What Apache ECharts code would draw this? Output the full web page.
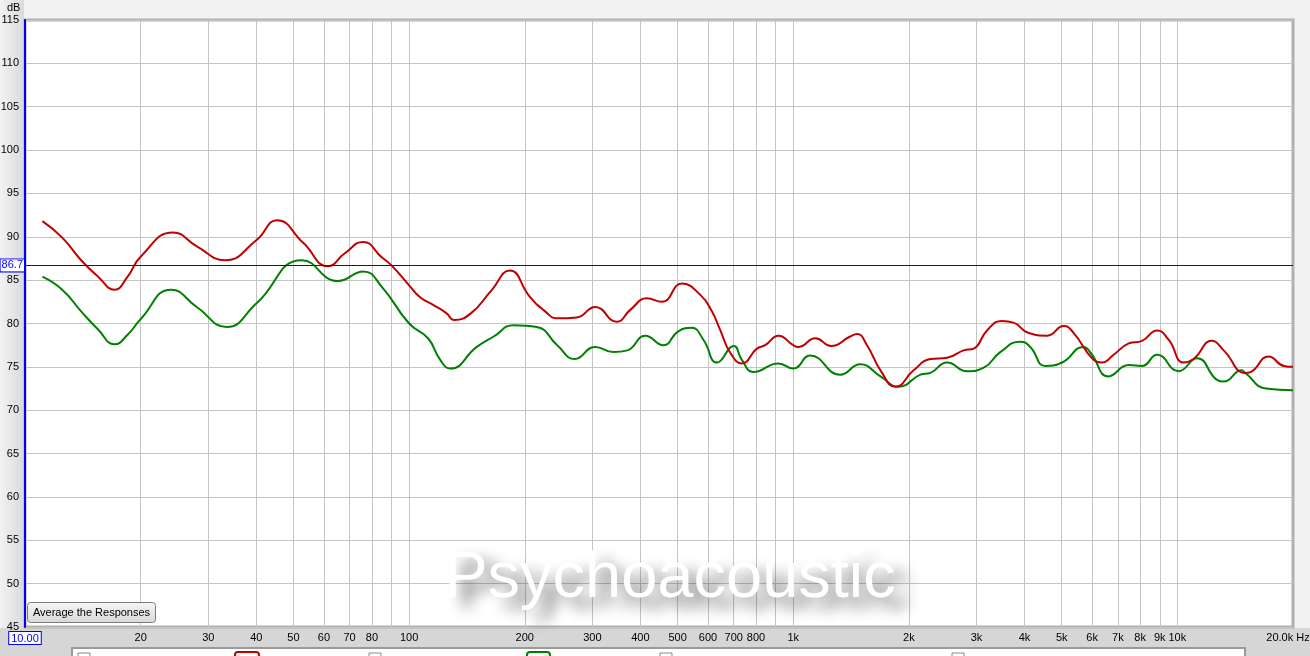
<!DOCTYPE html>
<html>
<head>
<meta charset="utf-8">
<script src="https://cdn.jsdelivr.net/npm/echarts@6/dist/echarts.min.js"></script>
<style>
html,body{margin:0;padding:0;background:#f2f2f2;}
#chart{width:1310px;height:656px;}
</style>
</head>
<body>
<div id="chart"></div>
<script>
// Frequencies (Hz) and levels (dB)
var redFreq = [11.1,12.5,14,15.5,17.1,18.5,20,24.3,28,33.2,40,45.3,53,61.5,68,75.9,85,90,100,107,116,125,131,145,163,183,206,226,243,273,305,347,377,416,455,513,573,614,646,686,735,804,845,915,1000,1033,1141,1255,1406,1465,1556,1687,1846,2058,2275,2515,2776,2949,3195,3494,3745,4100,4581,5061,5372,5998,6368,6826,7471,8090,8855,9500,10380,11020,12300,13200,15030,15500,17290,18940,20000];
var redDb   = [91.8,89.9,87.3,85.4,83.9,85.4,87.7,90.5,88.9,87.3,89.6,91.9,89.3,86.6,88.1,89.4,87.6,86.7,84.4,83.0,82.1,81.2,80.4,81.2,83.7,86.1,83.1,81.4,80.6,80.7,81.9,80.2,81.6,82.9,82.5,84.6,83.3,81.4,79.2,76.6,75.4,77.1,77.5,78.6,77.5,77.3,78.3,77.4,78.5,78.8,77.5,74.6,72.7,74.6,75.9,76.05,76.9,77.1,79.2,80.3,80.1,78.9,78.6,79.7,78.9,76.0,75.5,76.4,77.7,78.0,79.2,78.1,75.5,75.9,78.0,76.9,74.3,74.4,76.2,75.1,75.0];

var greenFreq = [11.1,12.5,14,15.5,17.1,18.5,20,24,28,33.5,40,52.6,65.3,76,85,100,112,120.5,128,150,166,187,215,243,270,305,340,370,412,459,502,544,584,633,700,735,788,915,1000,1107,1325,1494,1687,1880,2144,2275,2515,2832,3133,3459,3898,4140,4530,5010,5700,5950,6620,7471,8090,8855,10070,11250,12680,13200,14700,15030,17000,20000];
var greenDb   = [85.4,83.9,81.4,79.3,77.6,78.7,80.5,83.9,81.9,79.6,82.3,87.3,84.9,86.0,84.2,80.0,78.3,75.8,74.8,77.3,78.5,79.8,79.6,77.5,75.9,77.3,76.7,76.9,78.6,77.5,79.1,79.5,78.1,75.5,77.4,75.8,74.4,75.4,74.8,76.3,74.1,75.3,73.9,72.7,74.1,74.3,75.5,74.5,74.9,76.7,77.9,77.3,75.1,75.5,77.3,76.6,73.9,75.2,75.1,76.4,74.5,76.0,73.5,73.3,74.6,74.3,72.5,72.3];

var refLevel = 86.7;

// Axis ticks
var gridFreqs = [20,30,40,50,60,70,80,90,100,200,300,400,500,600,700,800,900,1000,2000,3000,4000,5000,6000,7000,8000,9000,10000];
var labelFreqs = [10,20,30,40,50,60,70,80,100,200,300,400,500,600,700,800,1000,2000,3000,4000,5000,6000,7000,8000,9000,10000,20000];
var labelTexts = ['10.00','20','30','40','50','60','70','80','100','200','300','400','500','600','700','800','1k','2k','3k','4k','5k','6k','7k','8k','9k','10k','20.0k Hz'];
var minFreq = 10, maxFreq = 20000;
var dbMin = 45, dbMax = 115, dbStep = 5;

function toPairs(f, v) { return f.map(function (x, i) { return [Math.log10(x), v[i]]; }); }
function freqLabel(val) {
  var best = 0, d = 1e9;
  for (var i = 0; i < labelFreqs.length; i++) {
    var dd = Math.abs(Math.log10(labelFreqs[i]) - val);
    if (dd < d) { d = dd; best = i; }
  }
  if (best === 0) return '{box|' + labelTexts[0] + '}';
  if (best === labelFreqs.length - 1) return '{last|' + labelTexts[best] + '}';
  return labelTexts[best];
}

var FONT = 'Liberation Sans';
var chart = echarts.init(document.getElementById('chart'), null, {renderer: 'canvas'});
chart.setOption({
  animation: false,
  backgroundColor: '#f2f2f2',
  grid: {left: 25, right: 17, top: 20, bottom: 29, show: true, backgroundColor: '#ffffff', borderColor: '#b0b0b0', borderWidth: 3,
    containLabel: false, outerBoundsMode: 'none'},
  xAxis: {
    type: 'value', min: Math.log10(minFreq), max: Math.log10(maxFreq),
    axisLine: {show: false}, axisTick: {show: false, customValues: gridFreqs.map(Math.log10)},
    splitLine: {show: true, lineStyle: {color: '#c4c4c4', width: 1}},
    axisLabel: {
      customValues: labelFreqs.map(Math.log10), formatter: freqLabel,
      color: '#000', fontFamily: FONT, fontSize: 11, margin: 5, hideOverlap: false,
      rich: {
        box: {color: '#0000ff', borderColor: '#0000ff', borderWidth: 1, backgroundColor: '#fff', padding: [1, 2, 0, 2], fontFamily: FONT, fontSize: 11},
        last: {color: '#000', fontFamily: FONT, fontSize: 11, padding: [0, 10, 0, 0]}
      }
    }
  },
  yAxis: {
    type: 'value', min: dbMin, max: dbMax, interval: dbStep,
    axisLine: {show: true, lineStyle: {color: '#0000ff', width: 2}}, axisTick: {show: false},
    splitLine: {show: true, lineStyle: {color: '#c4c4c4', width: 1}},
    axisLabel: {color: '#000', fontFamily: FONT, fontSize: 11, margin: 6}
  },
  series: [
    {
      type: 'line', name: 'Red', data: toPairs(redFreq, redDb), smooth: 0.5, showSymbol: false,
      lineStyle: {color: '#c00000', width: 2}, itemStyle: {color: '#c00000'}, z: 3,
      markLine: {
        silent: true, symbol: 'none', data: [{yAxis: refLevel}],
        lineStyle: {color: '#0000ff', width: 1, type: 'solid'},
        label: {position: 'start', formatter: String(refLevel), color: '#0000ff', borderColor: '#0000ff', borderWidth: 1,
          backgroundColor: '#fff', padding: [1, 1, 0, 1], distance: 1, fontFamily: FONT, fontSize: 11}
      }
    },
    {
      type: 'line', name: 'Green', data: toPairs(greenFreq, greenDb), smooth: 0.5, showSymbol: false,
      lineStyle: {color: '#008000', width: 2}, itemStyle: {color: '#008000'}, z: 2
    }
  ],
  graphic: [
    {type: 'rect', z: -5, shape: {x: 0, y: 0, width: 24, height: 628}, style: {fill: new echarts.graphic.LinearGradient(0, 0, 1, 0, [{offset: 0, color: '#f2f2f2'}, {offset: 1, color: '#dadada'}])}},
    {type: 'rect', z: -5, shape: {x: 0, y: 628, width: 1310, height: 28}, style: {fill: '#d6d6d6'}},
    {type: 'text', left: 7, top: 2, style: {text: 'dB', fill: '#000', font: '11px "Liberation Sans"'}},
    {type: 'rect', z: 5, shape: {x: 72, y: 648, width: 1173, height: 20}, style: {fill: '#ffffff', stroke: '#9a9a9a', lineWidth: 2}},
    {type: 'rect', z: 6, shape: {x: 78, y: 653, width: 12, height: 12}, style: {fill: '#fff', stroke: '#888'}},
    {type: 'rect', z: 6, shape: {x: 369, y: 653, width: 12, height: 12}, style: {fill: '#fff', stroke: '#888'}},
    {type: 'rect', z: 6, shape: {x: 660, y: 653, width: 12, height: 12}, style: {fill: '#fff', stroke: '#888'}},
    {type: 'rect', z: 6, shape: {x: 952, y: 653, width: 12, height: 12}, style: {fill: '#fff', stroke: '#888'}},
    {type: 'rect', z: 6, shape: {x: 235, y: 652, width: 24, height: 12, r: 3}, style: {fill: '#fff', stroke: '#c00000', lineWidth: 2}},
    {type: 'rect', z: 6, shape: {x: 527, y: 652, width: 23, height: 12, r: 3}, style: {fill: '#fff', stroke: '#008000', lineWidth: 2}},
    {type: 'rect', z: 50, shape: {x: 27.5, y: 602.5, width: 128, height: 20, r: 3}, style: {fill: new echarts.graphic.LinearGradient(0, 0, 0, 1, [{offset: 0, color: '#f6f6f6'}, {offset: 1, color: '#d8d8d8'}]), stroke: '#7a7a7a', lineWidth: 1}},
    {type: 'text', z: 51, x: 91.5, y: 613, style: {text: 'Average the Responses', fill: '#000', font: '11px "Liberation Sans"', align: 'center', verticalAlign: 'middle'}},
    {type: 'text', z: 60, x: 670, y: 579, style: {text: 'Psychoacoustic', fill: '#ffffff', font: '65px "Liberation Sans"', align: 'center', verticalAlign: 'middle',
      textShadowColor: 'rgba(40,40,40,0.7)', textShadowBlur: 15, textShadowOffsetX: 14, textShadowOffsetY: 10}}
  ]
});
</script>
</body>
</html>
